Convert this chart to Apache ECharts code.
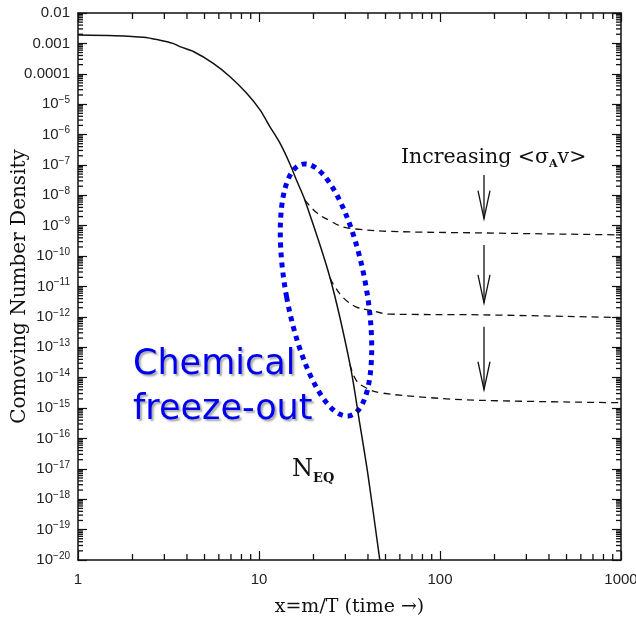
<!DOCTYPE html>
<html>
<head>
<meta charset="utf-8">
<script src="https://cdn.jsdelivr.net/npm/echarts@6/dist/echarts.min.js"></script>
<style>
html, body { margin: 0; padding: 0; background: #fff; }
#chart { width: 636px; height: 618px; }
</style>
</head>
<body>
<div id="chart"></div>
<script>
// equilibrium abundance N_EQ (solid)
const eqX = [1, 1.6, 2.3, 2.8, 3.35, 3.66, 4.34, 5.59, 6.92, 8.55, 10.13, 11.5, 13.06, 14.8, 16.1, 17.9, 24.7, 31.8, 36, 40, 46.5];
const eqY = [1.9e-3, 1.8e-3, 1.6e-3, 1.3e-3, 1.0e-3, 7.8e-4, 5.4e-4, 2.2e-4, 8.0e-5, 2.3e-5, 6.5e-6, 1.8e-6, 5.2e-7, 1.1e-7, 3.2e-8, 7.1e-9, 1.9e-11, 2.8e-14, 3.2e-16, 6.3e-18, 1e-20];

// freeze-out curves (dashed), increasing <sigma_A v> going down
const fo1X = [17.9, 20.8, 24.7, 29.2, 36.1, 53, 166, 1000];
const fo1Y = [7.1e-9, 2.7e-9, 1.45e-9, 9.1e-10, 7.6e-10, 6.5e-10, 5.8e-10, 5.0e-10];
const fo2X = [24.7, 25.7, 29.2, 34.6, 41, 53, 166, 1000];
const fo2Y = [1.9e-11, 1.2e-11, 4.3e-12, 2.1e-12, 1.66e-12, 1.23e-12, 1.17e-12, 9.5e-13];
const fo3X = [31.8, 34.6, 39.4, 46.6, 88, 166, 1000];
const fo3Y = [2.75e-14, 7.9e-15, 4.5e-15, 3.2e-15, 2.2e-15, 1.8e-15, 1.5e-15];

// arrows: x position, start and end values
const arrowX = 175;
const arrowFrom = [4.7e-8, 2.3e-10, 4.7e-13];
const arrowTo = [1.7e-9, 2.9e-12, 4e-15];

// axis ticks
const xMin = 1, xMax = 1000, yMin = 1e-20, yMax = 1e-2;
const xDecades = [1, 10, 100];
const yDecadeExp = [-20, -19, -18, -17, -16, -15, -14, -13, -12, -11, -10, -9, -8, -7, -6, -5, -4, -3];
const minorSteps = [2, 3, 4, 5, 6, 7, 8, 9];

function yLabel(v) {
  const e = Math.round(Math.log10(v));
  if (e >= -4) return v.toFixed(-e);
  return '{b|10}{e|−' + (-e) + '}';
}

const xMinorVals = [];
xDecades.forEach(d => minorSteps.forEach(m => xMinorVals.push(d * m)));
const yMinorVals = [];
yDecadeExp.forEach(e => minorSteps.forEach(m => yMinorVals.push(m * Math.pow(10, e))));

const pairs = (xs, ys) => xs.map((x, i) => [x, ys[i]]);
const ink = '#111';
const blue = '#0000f0';

function renderArrow(params, api) {
  const p1 = api.coord([api.value(0), api.value(1)]);
  const p2 = api.coord([api.value(0), api.value(2)]);
  const st = {stroke: ink, lineWidth: 1.3, fill: 'none'};
  return {type: 'group', children: [
    {type: 'line', shape: {x1: p1[0], y1: p1[1], x2: p2[0], y2: p2[1]}, style: st},
    {type: 'polyline', shape: {points: [[p2[0] - 6, p2[1] - 28], [p2[0], p2[1]], [p2[0] + 6, p2[1] - 28]]}, style: st}
  ]};
}

const axisBase = {
  type: 'log',
  logBase: 10,
  interval: 1,
  axisLine: {show: true, onZero: false, lineStyle: {color: ink, width: 1.5}},
  axisTick: {show: true, inside: true, length: 9, lineStyle: {color: ink, width: 1.2}},
  splitLine: {show: false}
};

// text and freeze-out ellipse annotations
const annotations = [
  {type: 'text', x: 401, y: 158, style: {
    text: 'Increasing <σ{s|A}v>', fontFamily: 'DejaVu Serif', fontSize: 20.5, lineHeight: 24,
    fill: ink, verticalAlign: 'middle',
    rich: {s: {fontFamily: 'DejaVu Serif', fontSize: 11, lineHeight: 11, fontWeight: 'bold', verticalAlign: 'bottom'}}
  }},
  {type: 'text', x: 292, y: 470, style: {
    text: 'N{s|EQ}', fontFamily: 'DejaVu Serif', fontSize: 24, lineHeight: 30,
    fill: ink, verticalAlign: 'middle',
    rich: {s: {fontFamily: 'DejaVu Serif', fontSize: 13, lineHeight: 13, fontWeight: 'bold', verticalAlign: 'bottom'}}
  }},
  {type: 'ellipse', x: 326, y: 290, rotation: 0.183,
    shape: {cx: 0, cy: 0, rx: 40, ry: 128},
    style: {fill: 'none', stroke: blue, lineWidth: 5, lineDash: [5, 5]}},
  {type: 'text', x: 133, y: 342, style: {
    text: 'Chemical\nfreeze-out', fontFamily: 'DejaVu Sans', fontSize: 35, lineHeight: 45,
    fill: blue, verticalAlign: 'top',
    textShadowColor: 'rgba(0,0,0,0.35)', textShadowBlur: 2, textShadowOffsetX: 2, textShadowOffsetY: 2
  }}
];

const chart = echarts.init(document.getElementById('chart'));
chart.setOption({
  animation: false,
  backgroundColor: '#fff',
  grid: {left: 78, right: 15, top: 13, bottom: 58, containLabel: false, outerBoundsMode: 'none'},
  xAxis: [
    Object.assign({}, axisBase, {
      min: xMin, max: xMax, position: 'bottom',
      name: 'x=m/T (time →)', nameLocation: 'middle', nameGap: 38,
      nameTextStyle: {fontFamily: 'DejaVu Serif', fontSize: 19, color: ink},
      axisLabel: {margin: 12, fontFamily: 'Liberation Sans', fontSize: 15, color: '#222',
        showMinLabel: true, showMaxLabel: true, formatter: v => String(Math.round(v))}
    }),
    Object.assign({}, axisBase, {min: xMin, max: xMax, position: 'top', axisLabel: {show: false}})
  ],
  yAxis: [
    Object.assign({}, axisBase, {
      min: yMin, max: yMax, position: 'left',
      name: 'Comoving Number Density', nameLocation: 'middle', nameGap: 48, nameMoveOverlap: false,
      nameTextStyle: {fontFamily: 'DejaVu Serif', fontSize: 20, color: ink},
      axisLabel: {margin: 8, fontFamily: 'Liberation Sans', fontSize: 15, color: '#222',
        showMinLabel: true, showMaxLabel: true, hideOverlap: false, formatter: yLabel,
        rich: {
          b: {fontFamily: 'Liberation Sans', fontSize: 15, lineHeight: 18, color: '#222'},
          e: {fontFamily: 'Liberation Sans', fontSize: 10, lineHeight: 10, color: '#222', verticalAlign: 'top'}
        }}
    }),
    Object.assign({}, axisBase, {min: yMin, max: yMax, position: 'right', axisLabel: {show: false}})
  ],
  series: [
    {type: 'line', data: pairs(eqX, eqY), showSymbol: false, smooth: 0.3,
      lineStyle: {color: ink, width: 1.5}},
    {type: 'line', data: pairs(fo1X, fo1Y), showSymbol: false, smooth: 0.4,
      lineStyle: {color: ink, width: 1.3, type: [7, 5]}},
    {type: 'line', data: pairs(fo2X, fo2Y), showSymbol: false, smooth: 0.4,
      lineStyle: {color: ink, width: 1.3, type: [7, 5]}},
    {type: 'line', data: pairs(fo3X, fo3Y), showSymbol: false, smooth: 0.4,
      lineStyle: {color: ink, width: 1.3, type: [7, 5]}},
    {type: 'custom', data: arrowFrom.map((v, i) => [arrowX, v, arrowTo[i]]),
      encode: {x: 0, y: [1, 2]}, renderItem: renderArrow, silent: true}
  ]
});

// minor log ticks on all four sides, placed through the axis scales
const px = v => chart.convertToPixel({xAxisIndex: 0}, v);
const py = v => chart.convertToPixel({yAxisIndex: 0}, v);
const L = px(xMin), R = px(xMax), T = py(yMax), B = py(yMin);
const tickLines = [];
const tl = (x1, y1, x2, y2) => tickLines.push({type: 'line', silent: true, z: 10,
  shape: {x1: x1, y1: y1, x2: x2, y2: y2}, style: {stroke: ink, lineWidth: 1.3}});
xMinorVals.forEach(v => { const x = px(v); tl(x, B, x, B - 6); tl(x, T, x, T + 6); });
yMinorVals.forEach(v => { const y = py(v); tl(L, y, L + 5, y); tl(R, y, R - 5, y); });
chart.setOption({graphic: annotations.concat(tickLines)});
</script>
</body>
</html>
